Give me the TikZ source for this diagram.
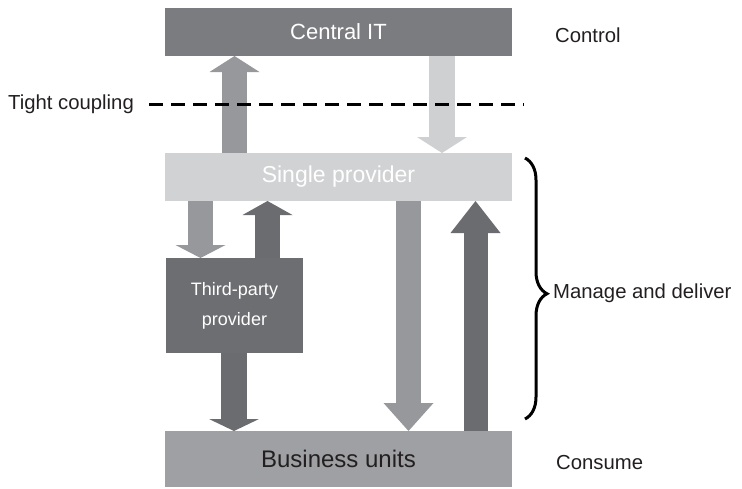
\documentclass[tikz,border=0pt]{standalone}
\usepackage{fontspec}
\setmainfont{Liberation Sans}
\usetikzlibrary{positioning,arrows.meta,decorations.pathreplacing}
\definecolor{centralGray}{HTML}{7B7C80}
\definecolor{singleGray}{HTML}{D1D2D4}
\definecolor{thirdGray}{HTML}{6D6E72}
\definecolor{businessGray}{HTML}{9FA0A3}
\definecolor{arrowMid}{HTML}{97989B}
\definecolor{arrowLight}{HTML}{CFD0D2}
\definecolor{arrowDark}{HTML}{6B6C70}
\definecolor{textDark}{HTML}{231F20}
\tikzset{
    layerBox/.style={fill=#1, minimum width=347pt, minimum height=48pt, inner sep=0pt, outer sep=0pt},
    sideLabel/.style={font=\fontsize{20.3}{24}\selectfont, text=textDark, anchor=west, inner sep=0pt},
    blockArrow/.style n args={3}{draw=#1, line width=#2, -{Triangle[length=#3, width=50pt, line width=0pt]}}
}
\begin{document}
\begin{tikzpicture}[x=1pt, y=-1pt]
        \useasboundingbox (0,0) rectangle (742,488);
        % layers
        \node[layerBox=centralGray, text=white, font=\fontsize{22}{26}\selectfont] (central) at (338.5,32) {Central IT};
        \node[layerBox=singleGray, text=white, font=\fontsize{23}{27}\selectfont] (single) at (338.5,177) {Single provider};
        \node[layerBox=businessGray, minimum height=56pt, text=textDark, font=\fontsize{24}{28}\selectfont] (business) at (338.5,459) {Business units};
        \node[layerBox=thirdGray, minimum width=137pt, minimum height=95pt, text=white, align=center, font=\fontsize{18}{30}\selectfont] (third) at (234.5,305.5) {Third-party\\provider};
        % arrow columns
        \coordinate (colA) at (234.5,0);
        \coordinate (colB) at (442,0);
        \coordinate (colC) at (200.5,0);
        \coordinate (colD) at (267.5,0);
        \coordinate (colE) at (234,0);
        \coordinate (colF) at (408.5,0);
        \coordinate (colG) at (475.5,0);
        \draw[blockArrow={arrowMid}{25pt}{16pt}] (single.north -| colA) -- (central.south -| colA);
        \draw[blockArrow={arrowLight}{26pt}{16pt}] (central.south -| colB) -- (single.north -| colB);
        \draw[blockArrow={arrowMid}{25pt}{13pt}] (single.south -| colC) -- (third.north -| colC);
        \draw[blockArrow={arrowDark}{25pt}{14pt}] (third.north -| colD) -- (single.south -| colD);
        \draw[blockArrow={arrowDark}{26pt}{12pt}] (third.south -| colE) -- (business.north -| colE);
        \draw[blockArrow={arrowMid}{25pt}{28pt}] (single.south -| colF) -- (business.north -| colF);
        \draw[blockArrow={arrowDark}{24pt}{32pt}] (business.north -| colG) -- (single.south -| colG);
        % side labels
        \node[sideLabel] (control) at (555,35) {Control};
        \node[sideLabel] (consume) at (556,463) {Consume};
        \node[sideLabel] (tight) at (8,104) {Tight coupling};
        \node[sideLabel] (manage) at (553,293) {Manage and deliver};
        % coupling line and brace
        \coordinate (lineEnd) at (524,104);
        \draw[line width=3pt, dash pattern=on 14pt off 8pt] ([xshift=15pt]tight.east) -- (lineEnd);
        \coordinate (braceTop) at (525,158);
        \coordinate (braceBottom) at (525,419);
        \draw[line width=3pt, decorate, decoration={brace, amplitude=22pt, aspect=0.52}] (braceTop) -- (braceBottom);
\end{tikzpicture}
\end{document}
